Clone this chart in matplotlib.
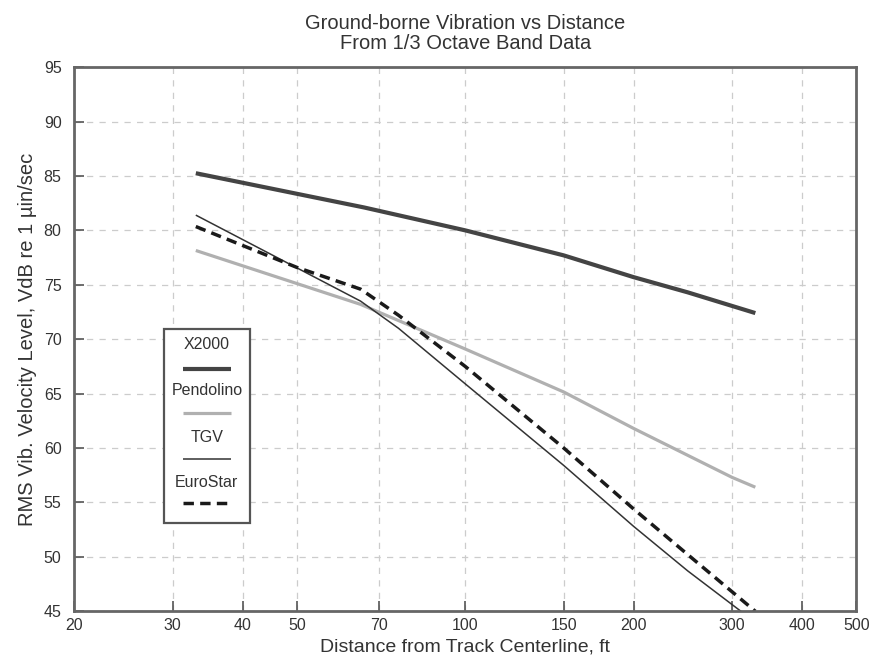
import numpy as np
import matplotlib
matplotlib.use('Agg')
import matplotlib.pyplot as plt
from matplotlib.patches import Rectangle
from matplotlib.lines import Line2D
from matplotlib.ticker import FixedLocator, FixedFormatter, NullLocator

plt.rcParams['font.family'] = ['Liberation Sans', 'DejaVu Sans']

# distances (ft) and levels (VdB)
x2000_d = [33, 66, 100, 150, 200, 250, 330]
x2000_v = [85.25, 82.1, 80.0, 77.7, 75.7, 74.3, 72.4]

pend_d = [33, 65, 100, 150, 200, 300, 330]
pend_v = [78.15, 73.2, 69.1, 65.15, 61.8, 57.3, 56.4]

tgv_d = [33, 65, 76, 100, 150, 200, 250, 311, 330]
tgv_v = [81.4, 73.5, 71.0, 65.9, 58.4, 52.8, 48.7, 45.0, 44.0]

euro_d = [33, 50, 65, 76, 100, 150, 200, 250, 330]
euro_v = [80.35, 76.6, 74.6, 72.2, 67.5, 60.0, 54.4, 50.2, 45.0]

xticks = [20, 30, 40, 50, 70, 100, 150, 200, 300, 400, 500]
yticks = [45, 50, 55, 60, 65, 70, 75, 80, 85, 90, 95]
names = ['X2000', 'Pendolino', 'TGV', 'EuroStar']

fig = plt.figure(figsize=(8.72, 6.71), dpi=100)
ax = fig.add_axes([0.085, 0.089, 0.897, 0.811])

styles = [
    dict(color='#444444', lw=3.0, ls='-'),
    dict(color='#b0b0b0', lw=2.3, ls='-'),
    dict(color='#333333', lw=1.1, ls='-'),
    dict(color='#1a1a1a', lw=2.5, ls=(0, (3, 1.8))),
]
series = [(x2000_d, x2000_v), (pend_d, pend_v), (tgv_d, tgv_v), (euro_d, euro_v)]
for (d, v), st in zip(series, styles):
    ax.plot(d, v, solid_capstyle='butt', **st)

ax.set_xscale('log')
ax.set_xlim(20, 500)
ax.set_ylim(45, 95)
ax.xaxis.set_major_locator(FixedLocator(xticks))
ax.xaxis.set_major_formatter(FixedFormatter([str(t) for t in xticks]))
ax.xaxis.set_minor_locator(NullLocator())
ax.set_yticks(yticks)
ax.tick_params(direction='in', length=7, width=1.2, colors='#555555',
               labelcolor='#333333', labelsize=11.5)
ax.tick_params(axis='x', pad=5)
ax.tick_params(axis='y', pad=9)
ax.grid(True, ls=(0, (5, 5)), color='#cccccc', lw=0.9)
for s in ax.spines.values():
    s.set_color('#666666')
    s.set_linewidth(2)

ax.set_xlabel('Distance from Track Centerline, ft', fontsize=14, color='#333333', labelpad=4)
ax.set_ylabel('RMS Vib. Velocity Level, VdB re 1 \u00b5in/sec', fontsize=14.5, color='#333333', labelpad=5)
ax.set_title('Ground-borne Vibration vs Distance\nFrom 1/3 Octave Band Data',
             fontsize=14.5, color='#333333', pad=13, linespacing=1.1)

# legend box, labels above each line sample
ax.add_patch(Rectangle((0.1147, 0.162), 0.11, 0.356, transform=ax.transAxes,
                       facecolor='white', edgecolor='#555555', lw=1.6, zorder=5))
text_y = [0.4905, 0.406, 0.3197, 0.237]
line_y = [0.4446, 0.3638, 0.2793, 0.1984]
for name, st, ty, ly in zip(names, styles, text_y, line_y):
    ax.text(0.1697, ty, name, transform=ax.transAxes, ha='center', va='center',
            fontsize=11.5, color='#333333', zorder=6)
    ax.add_line(Line2D([0.139, 0.2004], [ly, ly], transform=ax.transAxes,
                       zorder=6, solid_capstyle='butt', **st))

fig.savefig('out.png', dpi=100)
